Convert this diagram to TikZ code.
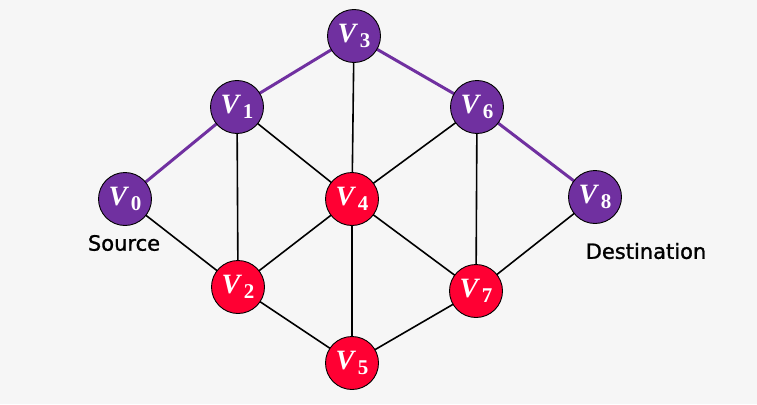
\documentclass[tikz,border=0pt]{standalone}
\usepackage{fontspec}
\setmainfont{Liberation Serif}
\newfontfamily\labfont[FakeBold=1.2]{DejaVu Sans}
\definecolor{bgc}{HTML}{F6F6F6}
\definecolor{pur}{HTML}{7030A0}
\definecolor{redn}{HTML}{FF0033}
\newcommand\vlab[1]{\fontsize{28}{28}\selectfont\textbf{\textit{V}}\kern1.5pt\raisebox{-5.5pt}{\fontsize{21}{21}\selectfont\textbf{#1}}}
\tikzset{
  vnode/.style={circle, draw=black, line width=0.9pt, minimum size=53pt, inner sep=0pt, text=white},
  pnode/.style={vnode, fill=pur},
  rnode/.style={vnode, fill=redn},
  edge/.style={draw=black, line width=1.6pt},
  pedge/.style={draw=pur, line width=3pt},
  caption/.style={font=\labfont\fontsize{21}{21}\selectfont, text=black}
}
\begin{document}
\begin{tikzpicture}[x=1pt,y=-1pt]
\fill[bgc] (0,0) rectangle (757,404);
\useasboundingbox (0,0) rectangle (757,404);
\coordinate (p0) at (125,199);
\coordinate (p1) at (237,107);
\coordinate (p3) at (354,36);
\coordinate (p6) at (477,107);
\coordinate (p8) at (595,197);
\coordinate (p4) at (352,199);
\coordinate (p2) at (238,287);
\coordinate (p7) at (476,291);
\coordinate (p5) at (352,363);
% edges
\draw[edge] (p0) -- (p2);
\draw[edge] (p1) -- (p2);
\draw[edge] (p1) -- (p4);
\draw[edge] (p3) -- (p4);
\draw[edge] (p6) -- (p4);
\draw[edge] (p6) -- (p7);
\draw[edge] (p8) -- (p7);
\draw[edge] (p2) -- (p4);
\draw[edge] (p4) -- (p7);
\draw[edge] (p4) -- (p5);
\draw[edge] (p2) -- (p5);
\draw[edge] (p7) -- (p5);
\draw[pedge] (p0) -- (p1) -- (p3) -- (p6) -- (p8);
% nodes
\node[pnode] (V0) at (p0) {\vlab{0}};
\node[pnode] (V1) at (p1) {\vlab{1}};
\node[pnode] (V3) at (p3) {\vlab{3}};
\node[pnode] (V6) at (p6) {\vlab{6}};
\node[pnode] (V8) at (p8) {\vlab{8}};
\node[rnode] (V4) at (p4) {\vlab{4}};
\node[rnode] (V2) at (p2) {\vlab{2}};
\node[rnode] (V7) at (p7) {\vlab{7}};
\node[rnode] (V5) at (p5) {\vlab{5}};
\node[caption] (src) at (124,243) {Source};
\node[caption] (dst) at (646,251) {Destination};
\end{tikzpicture}
\end{document}
